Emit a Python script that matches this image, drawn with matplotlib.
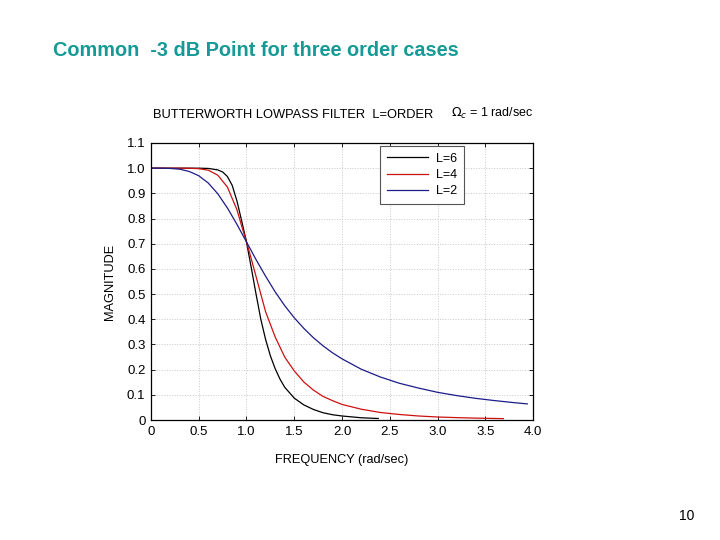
import matplotlib.pyplot as plt

# values
freq_l6 = [0, 0.2, 0.4, 0.5, 0.6, 0.7, 0.75, 0.8, 0.85, 0.9, 0.95, 1.0, 1.05,
           1.1, 1.15, 1.2, 1.25, 1.3, 1.35, 1.4, 1.5, 1.6, 1.7, 1.8, 1.9, 2.0,
           2.2, 2.38]
mag_l6 = [1.0, 1.0, 1.0, 0.9999, 0.999, 0.993, 0.985, 0.967, 0.932, 0.87, 0.79,
          0.707, 0.605, 0.50, 0.40, 0.32, 0.255, 0.204, 0.163, 0.13, 0.087,
          0.06, 0.042, 0.029, 0.021, 0.016, 0.009, 0.006]

freq_l4 = [0, 0.2, 0.4, 0.5, 0.6, 0.7, 0.8, 0.85, 0.9, 0.95, 1.0, 1.05, 1.1,
           1.15, 1.2, 1.3, 1.4, 1.5, 1.6, 1.7, 1.8, 1.9, 2.0, 2.2, 2.4, 2.6,
           2.8, 3.0, 3.2, 3.4, 3.69]
mag_l4 = [1.0, 1.0, 0.9997, 0.998, 0.992, 0.972, 0.925, 0.88, 0.835, 0.77,
          0.707, 0.64, 0.57, 0.50, 0.43, 0.33, 0.25, 0.195, 0.151, 0.119,
          0.094, 0.077, 0.062, 0.043, 0.030, 0.022, 0.016, 0.012, 0.0095,
          0.0075, 0.0055]

freq_l2 = [0, 0.1, 0.2, 0.3, 0.4, 0.5, 0.6, 0.7, 0.8, 0.9, 1.0, 1.1, 1.2, 1.3,
           1.4, 1.5, 1.6, 1.7, 1.8, 1.9, 2.0, 2.2, 2.4, 2.6, 2.8, 3.0, 3.2,
           3.4, 3.6, 3.8, 3.94]
mag_l2 = [1.0, 1.0, 0.999, 0.996, 0.987, 0.970, 0.941, 0.898, 0.842, 0.777,
          0.707, 0.637, 0.571, 0.509, 0.454, 0.406, 0.364, 0.327, 0.295,
          0.267, 0.243, 0.202, 0.171, 0.146, 0.127, 0.110, 0.097, 0.086,
          0.077, 0.069, 0.064]

xticks = [0, 0.5, 1.0, 1.5, 2.0, 2.5, 3.0, 3.5, 4.0]
xlabels = ['0', '0.5', '1.0', '1.5', '2.0', '2.5', '3.0', '3.5', '4.0']
yticks = [0, 0.1, 0.2, 0.3, 0.4, 0.5, 0.6, 0.7, 0.8, 0.9, 1.0, 1.1]
ylabels = ['0', '0.1', '0.2', '0.3', '0.4', '0.5', '0.6', '0.7', '0.8', '0.9', '1.0', '1.1']

plt.rcParams['font.family'] = ['Liberation Sans', 'DejaVu Sans']

fig = plt.figure(figsize=(7.2, 5.4), dpi=100)
fig.text(0.073, 0.907, 'Common  -3 dB Point for three order cases',
         color='#159a96', fontsize=14.3, fontweight='bold', va='center')
fig.text(0.964, 0.045, '10', fontsize=10, ha='right', va='center')

ax = fig.add_axes([0.2097, 0.2222, 0.5306, 0.513])
ax.plot(freq_l6, mag_l6, color='black', lw=0.9, label='L=6')
ax.plot(freq_l4, mag_l4, color='#cc1111', lw=0.9, label='L=4')
ax.plot(freq_l2, mag_l2, color='#1c1c8a', lw=0.9, label='L=2')

ax.set_xlim(0, 4.0)
ax.set_ylim(0, 1.1)
ax.set_xticks(xticks)
ax.set_xticklabels(xlabels)
ax.set_yticks(yticks)
ax.set_yticklabels(ylabels)
ax.tick_params(direction='in', length=3, width=0.6, labelsize=9.5,
               top=True, right=True, pad=4)
ax.grid(True, linestyle=':', color='#c8c8c8', lw=0.7)
for s in ax.spines.values():
    s.set_linewidth(0.9)

ax.set_xlabel('FREQUENCY (rad/sec)', fontsize=9.2, labelpad=12)
ax.set_ylabel('MAGNITUDE', fontsize=9.2, labelpad=8)
ax.text(0.005, 1.08, 'BUTTERWORTH LOWPASS FILTER  L=ORDER', transform=ax.transAxes,
        fontsize=9.3, va='bottom')
ax.text(0.785, 1.08, r'$\Omega_c$ = 1 rad/sec', transform=ax.transAxes,
        fontsize=9, va='bottom')

leg = ax.legend(loc='upper left', bbox_to_anchor=(0.6, 0.99), fontsize=9,
                fancybox=False, edgecolor='#555555', framealpha=1,
                handlelength=3.3, handletextpad=0.6, labelspacing=0.35,
                borderpad=0.55, borderaxespad=0)
leg.get_frame().set_linewidth(0.8)

fig.savefig('out.png', dpi=100)
